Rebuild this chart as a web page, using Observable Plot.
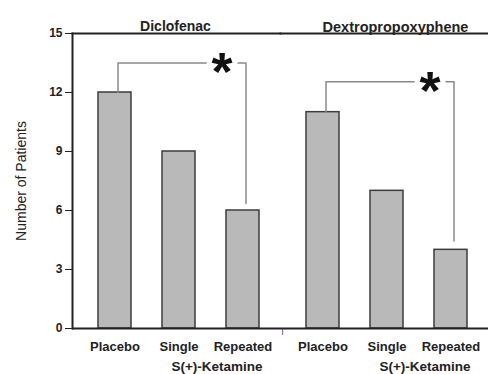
<!DOCTYPE html>
<html>
<head>
<meta charset="utf-8">
<script src="https://cdn.jsdelivr.net/npm/d3@7"></script>
<script src="https://cdn.jsdelivr.net/npm/@observablehq/plot@0.6"></script>
<style>
  html, body { margin: 0; padding: 0; background: #fff; }
</style>
</head>
<body>
<div id="chart"></div>
<script>
const drugs = ["Diclofenac", "Dextropropoxyphene"];
const conditions = ["Placebo", "Single", "Repeated"];
const diclofenacPatients = [12, 9, 6];
const dextroPatients = [11, 7, 4];
const yTicks = [0, 3, 6, 9, 12, 15];
const groupLabel = "S(+)-Ketamine";
const yLabel = "Number of Patients";
const bracketTop = [13.5, 12.55];
const bracketDrop = [6.35, 4.45];
const sigMark = "*";

const seriesByDrug = [diclofenacPatients, dextroPatients];
const data = drugs.flatMap((drug, i) =>
  conditions.map((condition, j) => ({drug, condition, value: seriesByDrug[i][j]})));

const bracketPts = drugs.flatMap((drug, i) => [
  {drug, x: conditions[0], y: seriesByDrug[i][0]},
  {drug, x: conditions[0], y: bracketTop[i]},
  {drug, x: conditions[2], y: bracketTop[i]},
  {drug, x: conditions[2], y: bracketDrop[i]}
]);
const stars = drugs.map((drug, i) => ({drug, x: conditions[2], y: bracketTop[i]}));

const ink = "#222";
const chart = Plot.plot({
  width: 488,
  height: 374,
  marginTop: 33,
  marginBottom: 46,
  marginLeft: 72,
  marginRight: 0,
  style: {fontFamily: "'Liberation Sans', Arial, sans-serif", color: ink, background: "#fff"},
  fx: {domain: drugs, padding: 0, axis: null},
  x: {domain: conditions, paddingInner: 0.49, paddingOuter: 0.353, align: 0.55, axis: null},
  y: {domain: [0, 15], axis: null},
  marks: [
    Plot.barY(data, {fx: "drug", x: "condition", y: "value", fill: "#b9b9b9", stroke: "#3c3c3c", strokeWidth: 1.5}),
    Plot.line(bracketPts, {fx: "drug", x: "x", y: "y", z: "drug", stroke: "#8a8a8a", strokeWidth: 1.5, dx: 3, curve: "linear"}),
    Plot.text(stars, {fx: "drug", x: "x", y: "y", text: () => sigMark, dx: -21, dy: 10, fontSize: 54, fontWeight: "bold", fill: "#111", stroke: "white", strokeWidth: 10, paintOrder: "stroke"}),
    Plot.ruleY([0], {stroke: ink, strokeWidth: 2}),
    Plot.frame({anchor: "top", stroke: ink, strokeWidth: 2}),
    Plot.frame({anchor: "left", stroke: ink, strokeWidth: 2, facetAnchor: "left"}),
    Plot.axisY({ticks: yTicks, tickSize: 7, tickPadding: 3, fontSize: 12, fontWeight: "bold", label: null, facetAnchor: "left"}),
    Plot.text([yLabel], {fx: () => drugs[0], frameAnchor: "left", textAnchor: "middle", rotate: -90, dx: -51, fontSize: 14, fill: ink}),
    Plot.axisX({tickSize: 0, tickPadding: 13, fontSize: 13, fontWeight: "bold", label: null}),
    Plot.text(drugs, {fx: d => d, x: () => conditions[1], frameAnchor: "bottom", text: () => groupLabel, dx: 38, dy: 33, lineAnchor: "top", fontSize: 13.5, fontWeight: "bold", fill: ink}),
    Plot.text([drugs[0]], {fx: d => d, frameAnchor: "top", dx: -1, dy: -12, fontSize: 14, fontWeight: "bold", fill: ink}),
    Plot.text([drugs[1]], {fx: d => d, frameAnchor: "top", dx: 11, dy: -12, fontSize: 14.5, fontWeight: "bold", fill: ink}),
    Plot.text([drugs[1]], {fx: d => d, text: () => "|", frameAnchor: "bottom-left", textAnchor: "middle", lineAnchor: "top", dx: 2, dy: -1, fontSize: 8, fill: ink})
  ]
});
document.getElementById("chart").appendChild(chart);
</script>
</body>
</html>
